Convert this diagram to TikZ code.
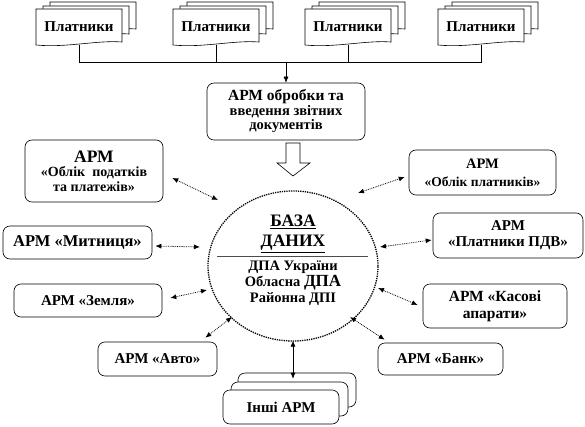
\documentclass[tikz,border=0pt]{standalone}
\usepackage{fontspec}
\setmainfont{Liberation Serif}
\usetikzlibrary{arrows.meta,shapes.geometric,calc}
\newcommand\docshape[4]{\draw[doc] (#1,#2) -- (#3,#2) -- (#3,#4-3) .. controls (#3-25,#4-5) and (#1+30,#4+3) .. (#1,#4) -- cycle;}
\newcommand\fz[2]{\fontsize{#1}{#2}\selectfont}
\begin{document}
\begin{tikzpicture}[x=1pt,y=-1pt,
  every node/.style={font=\bfseries},
  box/.style={draw, rounded corners=7pt, fill=white, align=center, inner sep=0pt, line width=0.6pt},
  doc/.style={draw, fill=white, line width=0.6pt},
  conn/.style={line width=0.6pt},
  ba/.style={densely dotted, line width=0.8pt, {Latex[length=6pt,width=5pt]}-{Latex[length=6pt,width=5pt]}},
  bs/.style={line width=0.6pt, {Latex[length=6pt,width=5pt]}-{Latex[length=6pt,width=5pt]}},
  doctext/.style={inner sep=0pt, minimum width=86, minimum height=36, font=\bfseries\fz{15}{17}}
]
\useasboundingbox (0,0) rectangle (585,427);
% document stacks
\foreach \x in {36,173,305,438}{
  \docshape{\x+14}{2}{\x+100}{32}
  \docshape{\x+7}{6}{\x+93}{37}
  \docshape{\x}{9}{\x+86}{45}
}
\node[doctext] (p1) at (79,27) {Платники};
\node[doctext] (p2) at (216,27) {Платники};
\node[doctext] (p3) at (348,27) {Платники};
\node[doctext] (p4) at (481,27) {Платники};
\coordinate (bus) at (0,62);
% processing box
\node[box, minimum width=158, minimum height=57, font=\bfseries\fz{14.5}{14.5}] (obr) at (286,111.5)
  {\fz{15.5}{14.5}АРМ обробки та\\ введення звітних\\ документів};
\draw[conn] (p1.south) -- (p1.south |- bus) -- (p4.south |- bus) -- (p4.south);
\draw[conn] (p2.south) -- (p2.south |- bus);
\draw[conn] (p3.south) -- (p3.south |- bus);
\draw[conn, -{Latex[length=6pt,width=5pt]}] (obr.north |- bus) -- (obr.north);
% block arrow
\draw[conn, fill=white] (286,143) -- (300,143) -- (300,163) -- (310,163) -- (293,176) -- (277,163) -- (286,163) -- cycle;
% database ellipse
\node[ellipse, draw, densely dotted, line width=1.3pt, minimum width=170, minimum height=150] (db) at (293,266) {};
\node[align=center, inner sep=0pt, font=\bfseries\fz{17.5}{20}] (dbt) at (293,234) {\underline{БАЗА}\\ \underline{ДАНИХ}};
\draw[line width=0.8pt, black!70] (217,256) -- (368,256);
\node[align=center, inner sep=0pt, font=\bfseries\fz{14.5}{16}] (dbb) at (293,283) {ДПА України\\ Обласна {\fz{17}{16}ДПА}\\ Районна ДПІ};
% left boxes
\node[box, minimum width=138, minimum height=62, font=\bfseries\fz{14}{14.5}] (op) at (94,171)
  {\fz{17.5}{14.5}АРМ\\ «Облік~ податків\\ та платежів»};
\node[box, minimum width=149, minimum height=33] (myt) at (77.5,242.5) {\fz{16.5}{18}АРМ «Митниця»};
\node[box, minimum width=148, minimum height=33] (zem) at (88,300.5) {\fz{15}{18}АРМ «Земля»};
\node[box, minimum width=119, minimum height=34] (avto) at (157.5,359) {\fz{15}{18}АРМ «Авто»};
% other arms stack
\node[box, minimum width=118, minimum height=34] (inshi3) at (297,390) {};
\node[box, minimum width=117, minimum height=34] (inshi2) at (289.5,399) {};
\node[box, minimum width=116, minimum height=34] (inshi) at (281,407) {\fz{15}{18}Інші АРМ};
% right boxes
\node[box, minimum width=147, minimum height=45, font=\bfseries\fz{13.5}{18}] (opl) at (482.5,172.5)
  {\fz{14.5}{18}АРМ\\ «Облік платників»};
\node[box, minimum width=150, minimum height=45, font=\bfseries\fz{15}{16}] (pdv) at (508,235.5)
  {АРМ\\ «Платники ПДВ»};
\node[box, minimum width=144, minimum height=44, font=\bfseries\fz{15.5}{17}] (kas) at (495,306)
  {АРМ «Касові\\ апарати»};
\node[box, minimum width=125, minimum height=32] (bank) at (440.5,359) {\fz{15}{18}АРМ «Банк»};
% connectors
\draw[ba] ([shift={(9,7)}]op.east) -- ([shift={(-75,-66)}]db.center);
\draw[ba] ([shift={(3,3.5)}]myt.east) -- ([shift={(-93,-19)}]db.center);
\draw[ba] ([shift={(8,-2.5)}]zem.east) -- ([shift={(-86,24)}]db.center);
\draw[ba] ([shift={(-12,-4)}]avto.north east) -- ([shift={(-61,51)}]db.center);
\draw[bs] ([yshift=1]db.south) -- ([yshift=-6]db.south |- inshi3.north);
\draw[ba] ([shift={(7,-3)}]bank.north west) -- ([shift={(57,51)}]db.center);
\draw[ba] ([shift={(-5,-1)}]kas.west) -- ([shift={(85,22)}]db.center);
\draw[ba] ([shift={(-1,4.5)}]pdv.west) -- ([shift={(87,-19)}]db.center);
\draw[ba] ([shift={(-4,4.5)}]opl.west) -- ([shift={(65,-73)}]db.center);
\end{tikzpicture}
\end{document}
